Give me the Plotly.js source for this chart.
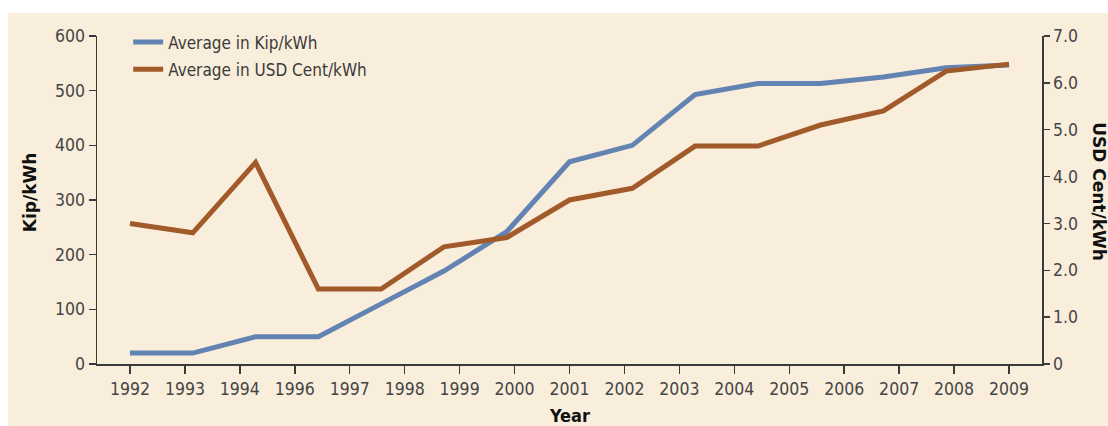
<!DOCTYPE html>
<html><head><meta charset="utf-8">
<script src="https://cdn.plot.ly/plotly-3.0.1.min.js"></script>
<style>
html,body{margin:0;padding:0;background:#ffffff;}
#chart{position:absolute;left:8px;top:13px;width:1100px;height:413px;}
</style></head><body><div id="chart"></div>
<script>
// Tick labels on the year axis (1995 is absent in the source chart)
const years = ['1992','1993','1994','1996','1997','1998','1999','2000','2001','2002','2003','2004','2005','2006','2007','2008','2009'];
// The plotted lines have 15 evenly spaced points spread across the year axis
const pointIndex = [0,1,2,3,4,5,6,7,8,9,10,11,12,13,14];
const kipPerKWh = [20,20,50,50,110,170,242,370,400,493,513,513,525,542,547];
const usdCentPerKWh = [3.0,2.8,4.3,1.6,1.6,2.5,2.7,3.5,3.75,4.65,4.65,5.1,5.4,6.25,6.4];
const rightTickVals = [0,1,2,3,4,5,6,7];
const rightTickText = ['0','1.0','2.0','3.0','4.0','5.0','6.0','7.0'];

const narrow = '"Liberation Sans Narrow", "Arial Narrow", "DejaVu Sans Condensed", sans-serif';
const boldFam = '"DejaVu Sans", sans-serif';
const axisCol = '#3a3a3a';
const tickFont = {family: narrow, size: 17.5, color: '#454545'};

const traces = [
  {x: years, y: years.map(() => null), xaxis: 'x', yaxis: 'y', type: 'scatter', mode: 'lines',
   showlegend: false, hoverinfo: 'skip'},
  {x: pointIndex, y: kipPerKWh, xaxis: 'x2', yaxis: 'y', type: 'scatter', mode: 'lines',
   name: 'Average in Kip/kWh', legendgroup: 'a', line: {color: '#6383B3', width: 5}},
  {x: pointIndex, y: usdCentPerKWh, xaxis: 'x2', yaxis: 'y2', type: 'scatter', mode: 'lines',
   name: 'Average in USD Cent/kWh', legendgroup: 'b', line: {color: '#A15A29', width: 5}}
];

const layout = {
  width: 1100, height: 413,
  margin: {l: 89, r: 66, t: 21, b: 62},
  paper_bgcolor: '#F9EEDB', plot_bgcolor: 'rgba(0,0,0,0)',
  showlegend: true,
  legend: {x: 0.033, y: 1.035, xanchor: 'left', yanchor: 'top', bgcolor: 'rgba(0,0,0,0)',
           font: {family: narrow, size: 17, color: '#3a3a3a'}, traceorder: 'grouped', tracegroupgap: 2},
  xaxis: {type: 'category', categoryorder: 'array', categoryarray: years, range: [-0.6, 16.6],
          showline: true, linecolor: axisCol, linewidth: 1.5, ticks: 'outside', ticklen: 8,
          tickwidth: 1.5, tickcolor: axisCol, tickfont: tickFont, showgrid: false, zeroline: false,
          fixedrange: true},
  xaxis2: {type: 'linear', overlaying: 'x', range: [-0.525, 14.525], visible: false, fixedrange: true},
  yaxis: {range: [0, 600], dtick: 100, showline: true, linecolor: axisCol, linewidth: 1.5,
          ticks: 'outside', ticklen: 7, tickwidth: 1.5, tickcolor: axisCol, tickfont: tickFont,
          showgrid: false, zeroline: false, fixedrange: true},
  yaxis2: {range: [0, 7], overlaying: 'y', side: 'right', tickmode: 'array', tickvals: rightTickVals,
           ticktext: rightTickText, showline: true, linecolor: axisCol, linewidth: 1.5,
           ticks: 'outside', ticklen: 6, tickwidth: 1.5, tickcolor: axisCol, tickfont: tickFont,
           showgrid: false, zeroline: false, fixedrange: true},
  annotations: [
    {text: 'Kip/kWh', xref: 'paper', yref: 'paper', x: -0.0709, y: 0.524, textangle: -90,
     showarrow: false, xanchor: 'center', yanchor: 'middle',
     font: {family: boldFam, size: 17, color: '#111', weight: 'bold'}},
    {text: 'USD Cent/kWh', xref: 'paper', yref: 'paper', x: 1.0603, y: 0.524, textangle: 90,
     showarrow: false, xanchor: 'center', yanchor: 'middle',
     font: {family: boldFam, size: 17, color: '#111', weight: 'bold'}},
    {text: 'Year', xref: 'paper', yref: 'paper', x: 0.5, y: -0.158,
     showarrow: false, xanchor: 'center', yanchor: 'middle',
     font: {family: narrow, size: 18, color: '#111', weight: 'bold'}}
  ],
  hovermode: false
};

Plotly.newPlot('chart', traces, layout, {displayModeBar: false, staticPlot: true});
</script></body></html>
